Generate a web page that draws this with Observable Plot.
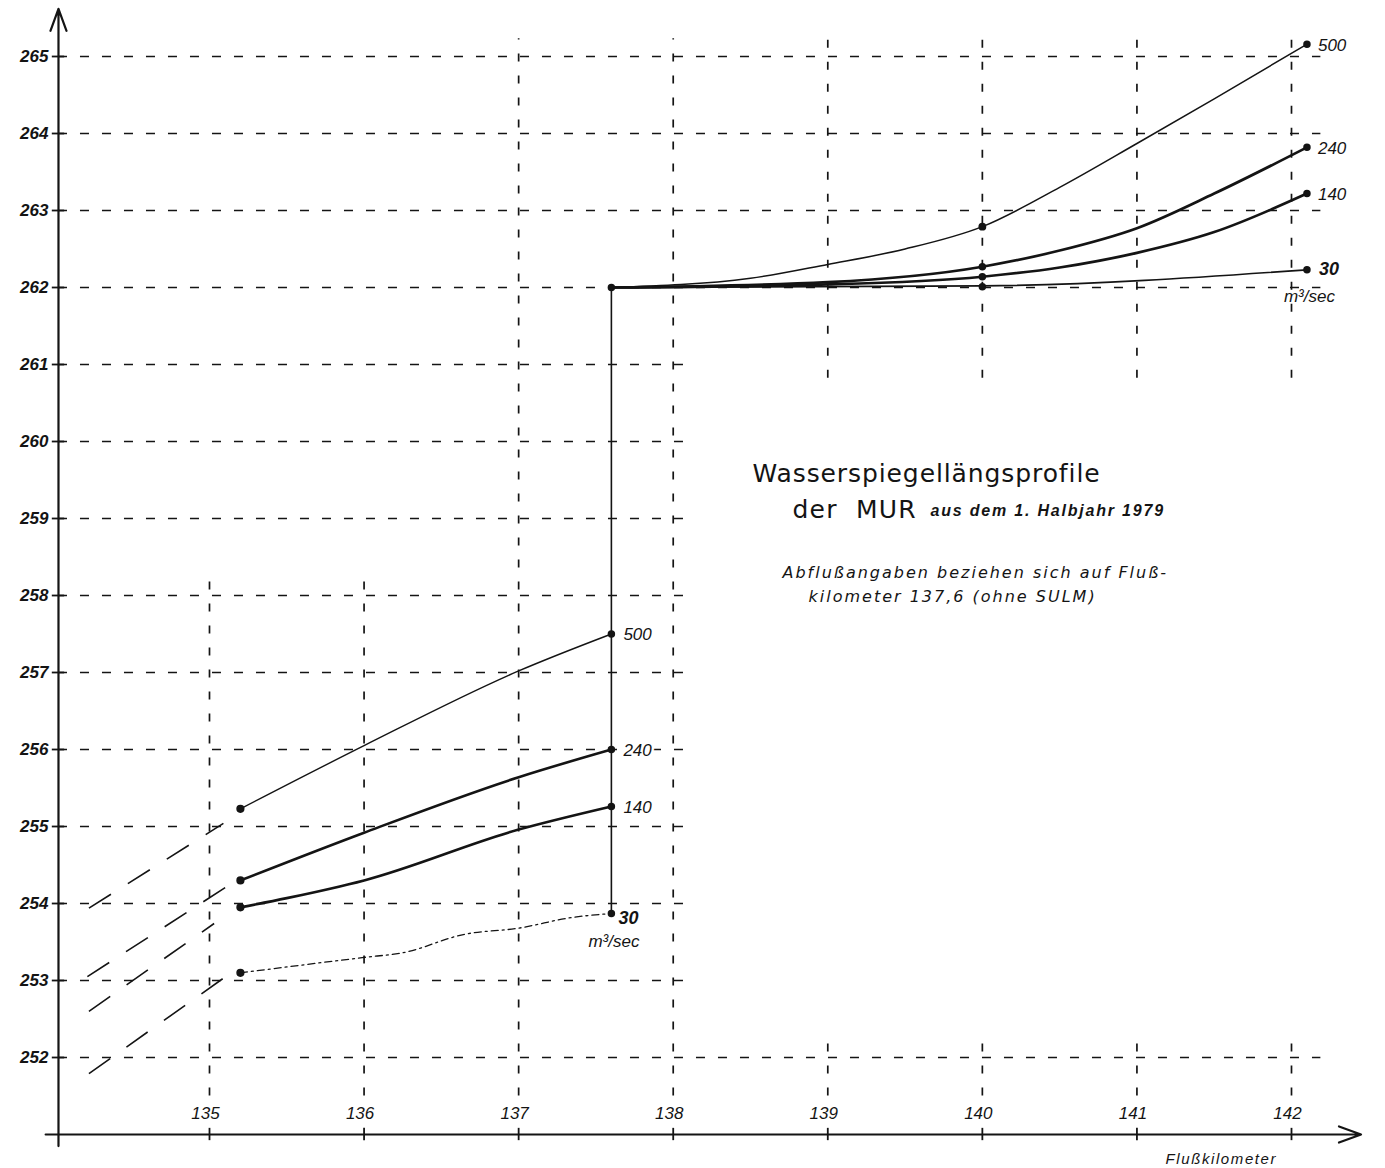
<!DOCTYPE html>
<html>
<head>
<meta charset="utf-8">
<script src="https://cdn.jsdelivr.net/npm/d3@7"></script>
<script src="https://cdn.jsdelivr.net/npm/@observablehq/plot@0.6"></script>
<style>
  html, body { margin: 0; padding: 0; background: #fff; }
  #chart svg { display: block; }
</style>
</head>
<body>
<div id="chart"></div>
<script>
// ---- tick labels ----
const yTicks = [252, 253, 254, 255, 256, 257, 258, 259, 260, 261, 262, 263, 264, 265];
const xTicks = [135, 136, 137, 138, 139, 140, 141, 142];
const yTickLabels = ["252","253","254","255","256","257","258","259","260","261","262","263","264","265"];
const xTickLabels = ["135","136","137","138","139","140","141","142"];

// ---- discharge categories (m³/sec) ----
const flows = ["500", "240", "140", "30"];

// ---- lower reach (km 135.2 – 137.6) ----
const km500L = [135.2, 136, 137, 137.6];
const h500L  = [255.23, 256.05, 257.02, 257.5];
const km240L = [135.2, 136, 137, 137.6];
const h240L  = [254.3, 254.92, 255.64, 256.0];
const km140L = [135.2, 135.5, 136, 137, 137.6];
const h140L  = [253.95, 254.07, 254.3, 254.96, 255.26];
const km30L  = [135.2, 136, 136.25, 136.65, 137, 137.35, 137.6];
const h30L   = [253.1, 253.3, 253.36, 253.6, 253.68, 253.82, 253.87];

// ---- upper reach (km 137.6 – 142.1) ----
const km500R = [137.6, 138.5, 139, 139.5, 140, 140.5, 141, 141.5, 142.1];
const h500R  = [262.0, 262.12, 262.3, 262.5, 262.79, 263.3, 263.87, 264.45, 265.16];
const km240R = [137.6, 139, 140, 140.5, 141, 141.5, 142.1];
const h240R  = [262.0, 262.07, 262.27, 262.48, 262.77, 263.22, 263.82];
const km140R = [137.6, 139, 140, 140.5, 141, 141.5, 142.1];
const h140R  = [262.0, 262.04, 262.14, 262.26, 262.45, 262.72, 263.22];
const km30R  = [137.6, 140, 142.1];
const h30R   = [262.0, 262.02, 262.23];

// ---- dashed extrapolations below km 135.2 ----
const extKm1 = [134.22, 134.21, 134.22, 134.22];
const extH1  = [253.94, 253.05, 252.60, 251.79];
const extKm2 = [135.09, 135.12, 135.03, 135.09];
const extH2  = [255.04, 254.23, 253.74, 253.03];

// ---- measured points (dots) ----
const dotKm = [135.2, 135.2, 135.2, 135.2, 137.6, 137.6, 137.6, 137.6, 137.6, 140, 140, 140, 140, 142.1, 142.1, 142.1, 142.1];
const dotH  = [255.23, 254.3, 253.95, 253.1, 257.5, 256.0, 255.26, 253.87, 262.0, 262.79, 262.27, 262.14, 262.01, 265.16, 263.82, 263.22, 262.23];
const dotR  = [5, 5, 5, 5, 4, 4, 4, 4, 4, 4.5, 4, 4, 4, 4, 4, 4, 4];

// ---- build tables ----
const mk = (km, h, flow) => km.map((k, i) => ({km: k, h: h[i], flow}));
const L500 = mk(km500L, h500L, "500"), L240 = mk(km240L, h240L, "240"), L140 = mk(km140L, h140L, "140"), L30 = mk(km30L, h30L, "30");
const R500 = mk(km500R, h500R, "500"), R240 = mk(km240R, h240R, "240"), R140 = mk(km140R, h140R, "140"), R30 = mk(km30R, h30R, "30");
const ext = flows.map((f, i) => ({flow: f, x1: extKm1[i], y1: extH1[i], x2: extKm2[i], y2: extH2[i]}));
const dots = dotKm.map((k, i) => ({km: k, h: dotH[i], r: dotR[i]}));
const lastL = [h500L, h240L, h140L, h30L].map(a => a.at(-1));
const lastR = [h500R, h240R, h140R, h30R].map(a => a.at(-1));
const labelsL = flows.map((f, i) => ({flow: f, km: km500L.at(-1), h: lastL[i]}));
const labelsR = flows.map((f, i) => ({flow: f, km: km500R.at(-1), h: lastR[i]}));

const axisX0 = 134.023;   // position of the vertical axis (km)
const axisY0 = 251.0;     // position of the horizontal axis (m)
const ink = "#141414";

const hGrid = yTicks.map(v => ({v, x2: (v >= 262 || v === 252) ? 142.19 : 138.12}));
// vertical grid segments
const vGrid = [];
xTicks.forEach(v => {
  if (v <= 136) vGrid.push({v, y1: 251.5, y2: 258.35});
  else if (v <= 138) vGrid.push({v, y1: 251.5, y2: 265.23});
  else { vGrid.push({v, y1: 260.82, y2: 265.23}); vGrid.push({v, y1: 251.5, y2: 252.32}); }
});

const font = "'Liberation Sans', Arial, sans-serif";
const halo = {stroke: "white", strokeWidth: 5};

// annotation texts and their letter spacing
const titleLine1 = "Wasserspiegellängsprofile";
const titleLine2 = "der  MUR";
const titleLine2b = "aus dem 1. Halbjahr 1979";
const noteLine1 = "Abflußangaben beziehen sich auf Fluß-";
const noteLine2 = "kilometer 137,6 (ohne SULM)";
const xAxisTitle = "Flußkilometer";
const spacing = new Map([[titleLine1, 0.9], [titleLine2, 1.2], [titleLine2b, 1.8], [noteLine1, 2.0], [noteLine2, 2.0], [xAxisTitle, 1.6]]);

const plot = Plot.plot({
  width: 1385,
  height: 1168,
  margin: 0,
  style: {background: "#fff", fontFamily: font},
  x: {domain: [135, 142], range: [209, 1291], axis: null},
  y: {domain: [252, 265], range: [1057, 56], axis: null},
  marks: [
    // grid
    Plot.ruleY(hGrid, {y: "v", x1: axisX0, x2: "x2", stroke: ink, strokeWidth: 1.7, strokeDasharray: "9,13"}),
    Plot.ruleX(vGrid, {x: "v", y1: "y1", y2: "y2", stroke: ink, strokeWidth: 1.7, strokeDasharray: "8,14"}),
    // axes with arrows
    Plot.arrow([{x1: axisX0, y1: 250.85, x2: axisX0, y2: 265.62}], {x1: "x1", y1: "y1", x2: "x2", y2: "y2", stroke: ink, strokeWidth: 2.2, headLength: 16, headAngle: 40}),
    Plot.arrow([{x1: 133.94, y1: axisY0, x2: 142.45, y2: axisY0}], {x1: "x1", y1: "y1", x2: "x2", y2: "y2", stroke: ink, strokeWidth: 2.2, headLength: 16, headAngle: 40}),
    // axis tick crosses
    Plot.ruleY(yTicks, {y: d => d, x1: axisX0 - 0.04, x2: axisX0 + 0.04, stroke: ink, strokeWidth: 1.8}),
    Plot.ruleX(xTicks, {x: d => d, y1: axisY0 - 0.08, y2: axisY0 + 0.08, stroke: ink, strokeWidth: 1.8}),
    // tick labels
    Plot.text(yTicks, {x: axisX0, y: d => d, text: (d, i) => yTickLabels[i], dx: -10, textAnchor: "end", fontSize: 17, fontWeight: "bold", fontStyle: "italic", fill: ink}),
    Plot.text(xTicks, {x: d => d, y: axisY0, text: (d, i) => xTickLabels[i], dx: -4, dy: -21, fontSize: 17, fontStyle: "italic", fill: ink}),
    // dashed extrapolations
    Plot.link(ext, {x1: "x1", y1: "y1", x2: "x2", y2: "y2", stroke: ink, strokeWidth: 1.6, strokeDasharray: "26,20"}),
    // lower reach lines
    Plot.line(L500, {x: "km", y: "h", curve: "monotone-x", stroke: ink, strokeWidth: 1.4}),
    Plot.line(L240, {x: "km", y: "h", curve: "monotone-x", stroke: ink, strokeWidth: 2.6}),
    Plot.line(L140, {x: "km", y: "h", curve: "monotone-x", stroke: ink, strokeWidth: 2.6}),
    Plot.line(L30,  {x: "km", y: "h", curve: "monotone-x", stroke: ink, strokeWidth: 1.3, strokeDasharray: "7,4,2,4"}),
    // weir step
    Plot.ruleX([km500L.at(-1)], {x: d => d, y1: lastL[3], y2: h30R[0], stroke: ink, strokeWidth: 1.6}),
    // upper reach lines
    Plot.line(R500, {x: "km", y: "h", curve: "monotone-x", stroke: ink, strokeWidth: 1.5}),
    Plot.line(R240, {x: "km", y: "h", curve: "monotone-x", stroke: ink, strokeWidth: 2.7}),
    Plot.line(R140, {x: "km", y: "h", curve: "monotone-x", stroke: ink, strokeWidth: 2.7}),
    Plot.line(R30,  {x: "km", y: "h", curve: "monotone-x", stroke: ink, strokeWidth: 1.7}),
    // dots
    Plot.dot(dots, {x: "km", y: "h", r: "r", fill: ink, stroke: ink}),
    // discharge labels
    Plot.text(labelsL.filter(d => d.flow !== "30"), {x: "km", y: "h", text: "flow", dx: 12, dy: 1, textAnchor: "start", fontSize: 17, fontStyle: "italic", fill: ink, ...halo}),
    Plot.text(labelsL.filter(d => d.flow === "30"), {x: "km", y: "h", text: "flow", dx: 7, dy: 5, textAnchor: "start", fontSize: 18, fontStyle: "italic", fontWeight: "bold", fill: ink}),
    Plot.text(labelsR.filter(d => d.flow !== "30"), {x: "km", y: "h", text: "flow", dx: 11, dy: 1, textAnchor: "start", fontSize: 17, fontStyle: "italic", fill: ink, ...halo}),
    Plot.text(labelsR.filter(d => d.flow === "30"), {x: "km", y: "h", text: "flow", dx: 12, dy: -1, textAnchor: "start", fontSize: 18, fontStyle: "italic", fontWeight: "bold", fill: ink}),
    Plot.text([lastL[3]], {x: km500L.at(-1), y: d => d, text: ["m³/sec"], dx: -23, dy: 28, textAnchor: "start", fontSize: 17, fontStyle: "italic", fill: ink}),
    Plot.text([lastR[3]], {x: km500R.at(-1), y: d => d, text: ["m³/sec"], dx: -23, dy: 27, textAnchor: "start", fontSize: 17, fontStyle: "italic", fill: ink}),
    // annotations
    Plot.text([titleLine1], {frameAnchor: "top-left", dx: 752, dy: 464, text: d => d, textAnchor: "start", fontSize: 25, fontFamily: "'DejaVu Sans', sans-serif", fill: ink}),
    Plot.text([titleLine2], {frameAnchor: "top-left", dx: 792, dy: 500, text: d => d, textAnchor: "start", fontSize: 25, fontFamily: "'DejaVu Sans', sans-serif", fill: ink}),
    Plot.text([titleLine2b], {frameAnchor: "top-left", dx: 930, dy: 504, text: d => d, textAnchor: "start", fontSize: 16, fontStyle: "italic", fontWeight: "bold", fill: ink}),
    Plot.text([noteLine1], {frameAnchor: "top-left", dx: 782, dy: 566, text: d => d, textAnchor: "start", fontSize: 16, fontStyle: "italic", fontFamily: "'DejaVu Sans', sans-serif", fill: ink}),
    Plot.text([noteLine2], {frameAnchor: "top-left", dx: 808, dy: 590, text: d => d, textAnchor: "start", fontSize: 16, fontStyle: "italic", fontFamily: "'DejaVu Sans', sans-serif", fill: ink}),
    Plot.text([xAxisTitle], {frameAnchor: "top-left", dx: 1165, dy: 1153, text: d => d, textAnchor: "start", fontSize: 15, fontStyle: "italic", fill: ink})
  ]
});
// apply the wide lettering-template spacing of the annotations
d3.select(plot).selectAll("text").each(function() {
  const s = spacing.get(this.textContent);
  if (s != null) this.setAttribute("letter-spacing", s + "px");
});
document.getElementById("chart").append(plot);
</script>
</body>
</html>
